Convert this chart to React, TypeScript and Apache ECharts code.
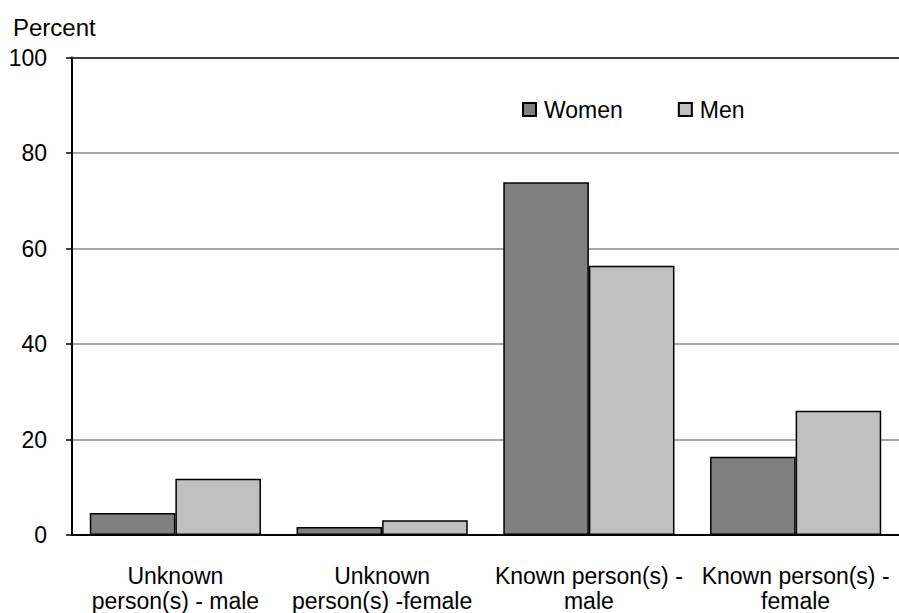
import React, { useEffect, useRef } from "react";
import * as echarts from "echarts";

const categories = [
  "Unknown\nperson(s) - male",
  "Unknown\nperson(s) -female",
  "Known person(s) -\nmale",
  "Known person(s) -\nfemale",
];
const women = [4.6, 1.7, 73.9, 16.4];
const men = [11.8, 3.1, 56.4, 26.0];
const yTicks = { min: 0, max: 100, interval: 20 };

const FONT = "'Liberation Sans', Arial, sans-serif";

export default function App() {
  const ref = useRef<HTMLDivElement>(null);
  useEffect(() => {
    document.body.style.margin = "0";
    const chart = echarts.init(ref.current!, null, { renderer: "svg" });
    chart.setOption({
      animation: false,
      backgroundColor: "#fff",
      textStyle: { fontFamily: FONT },
      title: {
        text: "Percent",
        left: 13,
        top: 15,
        padding: 0,
        textStyle: { fontFamily: FONT, fontSize: 24, fontWeight: "normal", color: "#000" },
      },
      legend: {
        left: 522,
        top: 98,
        padding: 0,
        itemWidth: 13,
        itemHeight: 13,
        itemGap: 55,
        icon: "rect",
        textStyle: { fontFamily: FONT, fontSize: 23, color: "#000", padding: [0, 0, 0, 3] },
        data: ["Women", "Men"],
      },
      grid: { left: 72, right: -4, top: 57.5, height: 478 },
      xAxis: {
        type: "category",
        data: categories,
        axisLine: { show: true, lineStyle: { color: "#000", width: 2 } },
        axisTick: { show: false },
        axisLabel: {
          color: "#000",
          fontFamily: FONT,
          fontSize: 23,
          lineHeight: 25,
          margin: 28,
          interval: 0,
        },
        z: 10,
      },
      yAxis: {
        type: "value",
        min: yTicks.min,
        max: yTicks.max,
        interval: yTicks.interval,
        axisLine: { show: true, lineStyle: { color: "#000", width: 2 } },
        axisTick: { show: true, length: 6, lineStyle: { color: "#000", width: 1.5 } },
        axisLabel: { color: "#000", fontFamily: FONT, fontSize: 23, margin: 25 },
        splitLine: {
          show: true,
          lineStyle: { color: ["#000", "#888", "#888", "#888", "#888", "#000"], width: 1.5 },
        },
      },
      series: [
        {
          name: "Women",
          type: "bar",
          data: women,
          barGap: "0%",
          barCategoryGap: "17.2%",
          itemStyle: { color: "#808080", borderColor: "#000", borderWidth: 1.5 },
        },
        {
          name: "Men",
          type: "bar",
          data: men,
          barGap: "0%",
          barCategoryGap: "17.2%",
          itemStyle: { color: "#c0c0c0", borderColor: "#000", borderWidth: 1.5 },
        },
      ],
    });
    return () => chart.dispose();
  }, []);
  return (
    <div
      ref={ref}
      style={{ position: "fixed", left: 0, top: 0, width: 899, height: 613 }}
    />
  );
}
